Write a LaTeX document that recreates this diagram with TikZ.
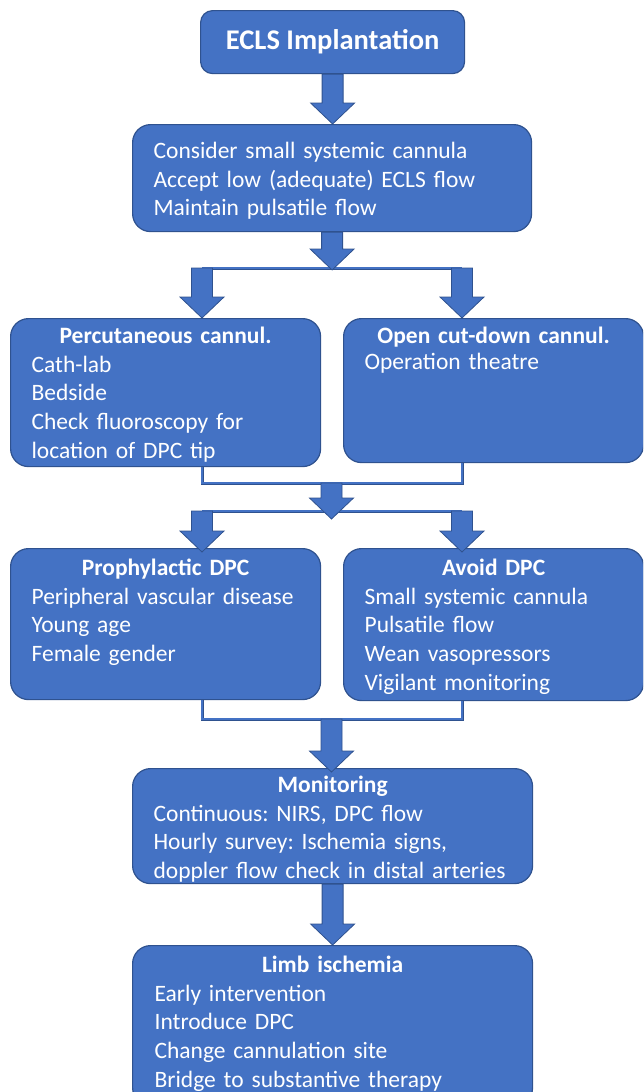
\documentclass[tikz,border=0pt]{standalone}
\usepackage{fontspec}
\setmainfont{Carlito}
\usepackage{tikz}
\usetikzlibrary{calc}
\frenchspacing

\definecolor{boxblue}{HTML}{4472C4}
\definecolor{edgeblue}{HTML}{2F528F}

\newcommand{\fatarrow}[2]{%
  \path[blockarrow] let \p1=#1, \p2=#2 in
    (\x1-10.5pt,\y1) -- (\x1-10.5pt,\y2+21pt) -- (\x1-22pt,\y2+21pt) -- (\x1,\y2)
    -- (\x1+22pt,\y2+21pt) -- (\x1+10.5pt,\y2+21pt) -- (\x1+10.5pt,\y1) -- cycle;}

\begin{document}
\begin{tikzpicture}[
  x=1pt, y=-1pt,
  box/.style={rectangle, draw=edgeblue, fill=boxblue, line width=1.2pt, rounded corners=18pt, text=white, align=left, anchor=north west, inner xsep=21pt, inner ysep=0pt, font=\fontsize{23.5}{28.6}\selectfont},
  headbox/.style={rectangle, draw=edgeblue, fill=boxblue, line width=1.2pt, rounded corners=12pt, text=white, anchor=north west, minimum width=264pt, minimum height=63pt, font=\fontsize{28.5}{34}\selectfont\bfseries},
  blockarrow/.style={fill=boxblue, draw=edgeblue, line width=0.8pt},
  link/.style={draw=edgeblue, double=boxblue, double distance=1.6pt, line width=0.7pt}
]
\clip[use as bounding box] (0,0) rectangle (643,1092);

\node[headbox] (ecls) at (200,10) {\raisebox{-1.5pt}{ECLS Implantation}};
\node[box, text width=357pt, text height=34pt, text depth=73pt] (plan) at (132,124)
  {Consider small systemic cannula\\Accept low (adequate) ECLS flow\\Maintain pulsatile flow};
\node[box, text width=268pt, text height=25pt, text depth=123pt] (perc) at (10,318)
  {\makebox[\hsize]{\bfseries Percutaneous cannul.}\\Cath-lab\\Bedside\\Check fluoroscopy for\\location of DPC tip};
\node[box, text width=258pt, text height=25pt, text depth=119pt] (open) at (343,318)
  {\makebox[\hsize]{\bfseries Open cut-down cannul.}\\[-3pt]Operation theatre};
\node[box, text width=268pt, text height=27pt, text depth=124pt] (proph) at (10,548)
  {\makebox[\hsize]{\bfseries Prophylactic DPC}\\Peripheral vascular disease\\Young age\\Female gender};
\node[box, text width=258pt, text height=27pt, text depth=125pt] (avoid) at (343,548)
  {\makebox[\hsize]{\bfseries Avoid DPC}\\Small systemic cannula\\Pulsatile flow\\Wean vasopressors\\Vigilant monitoring};
\node[box, text width=358pt, text height=24pt, text depth=91pt] (mon) at (132,768)
  {\makebox[\hsize]{\bfseries Monitoring}\\Continuous: NIRS, DPC flow\\Hourly survey: Ischemia signs,\\doppler flow check in distal arteries};
\node[box, text width=356pt, inner xsep=22pt, text height=27pt, text depth=133pt] (limb) at (132,945)
  {\makebox[\hsize]{\bfseries Limb ischemia}\\Early intervention\\Introduce DPC\\Change cannulation site\\Bridge to substantive therapy};

\coordinate (split1) at (331.5,268);
\coordinate (barL1) at (202,268);
\coordinate (barR1) at (462,268);
\coordinate (join1) at (331.5,483);
\coordinate (split2) at (331.5,511);
\coordinate (barL2) at (202,511);
\coordinate (barR2) at (462,511);
\coordinate (join2) at (331.5,719);

\draw[link] (barL1) -- (barR1);
\draw[link] (perc.south -| barL1) |- (join1) -| (open.south -| barR1);
\draw[link] (barL2) -- (barR2);
\draw[link] (proph.south -| barL2) |- (join2) -| (avoid.south -| barR2);

\fatarrow{(ecls.south)}{(plan.north)}
\fatarrow{(plan.south)}{([yshift=-2pt]split1)}
\fatarrow{(barL1)}{(barL1 |- perc.north)}
\fatarrow{(barR1)}{(barR1 |- open.north)}
\fatarrow{(join1)}{([yshift=-8pt]split2)}
\fatarrow{(barL2)}{([yshift=-4pt]barL2 |- proph.north)}
\fatarrow{(barR2)}{([yshift=-4pt]barR2 |- avoid.north)}
\fatarrow{(join2)}{([yshift=-4pt]mon.north)}
\fatarrow{(mon.south)}{(limb.north)}

\end{tikzpicture}
\end{document}
